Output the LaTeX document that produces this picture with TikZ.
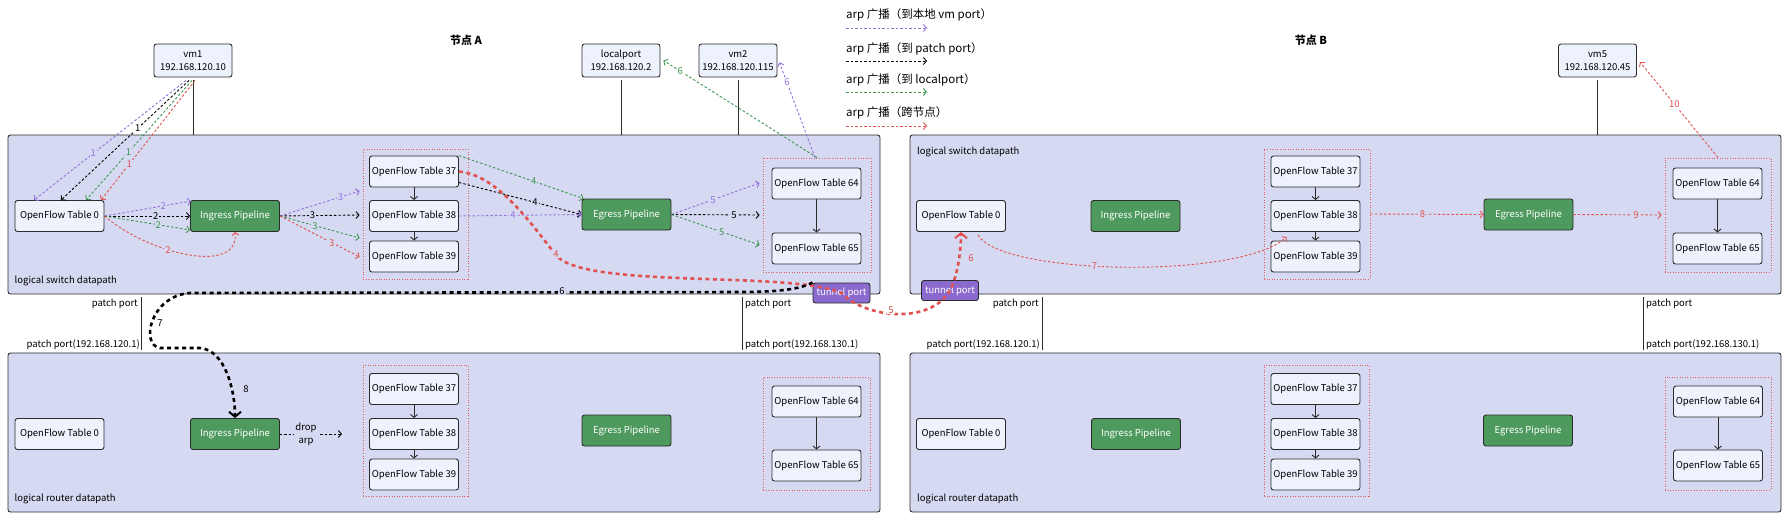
\documentclass[tikz,border=0pt]{standalone}
\usepackage{fontspec}
\setmainfont{Noto Sans CJK SC}
\usetikzlibrary{arrows.meta,calc}
\definecolor{panelc}{HTML}{D5DAF2}
\definecolor{tablec}{HTML}{EEF2FC}
\definecolor{bordc}{HTML}{2B2B2B}
\definecolor{pipec}{HTML}{4E9A5E}
\definecolor{tunc}{HTML}{8B6ACF}
\definecolor{purc}{HTML}{9370DB}
\definecolor{grnc}{HTML}{3E9651}
\definecolor{redc}{HTML}{E0514F}
\definecolor{grpc}{HTML}{E06060}
\newcommand\fnTbl{\fontsize{9.5}{13}\selectfont}
\newcommand\fnLbl{\fontsize{9.5}{13}\selectfont}
\newcommand\fnLeg{\fontsize{11.5}{13}\selectfont}
\newcommand\fnTtl{\fontsize{11}{13}\selectfont\bfseries}
\begin{document}
\begin{tikzpicture}[x=1pt,y=-1pt,
  panel/.style={draw=bordc, fill=panelc, line width=0.9pt, rounded corners=2.5pt, inner sep=0pt},
  tbl/.style={draw=bordc, fill=tablec, line width=0.9pt, rounded corners=2.5pt, minimum width=89pt, minimum height=31pt, inner sep=1pt, font=\fnTbl},
  pipe/.style={tbl, fill=pipec, text=white},
  vmb/.style={tbl, minimum width=78pt, minimum height=33pt, align=center},
  grp/.style={draw=grpc, line width=0.8pt, dash pattern=on 1pt off 1.6pt, inner sep=0pt},
  tun/.style={draw=bordc, fill=tunc, text=white, line width=0.9pt, rounded corners=2.5pt, minimum width=57pt, minimum height=20pt, inner sep=0pt, font=\fnTbl},
  conn/.style={draw=bordc, line width=1pt},
  flow/.style={draw=bordc, line width=0.9pt, -{Straight Barb[length=3pt,width=7pt]}},
  ar/.style={line width=0.9pt, dash pattern=on 2.5pt off 2pt, -{Straight Barb[length=3pt,width=7pt]}},
  pa/.style={ar, draw=purc}, ka/.style={ar, draw=black}, ga/.style={ar, draw=grnc}, ra/.style={ar, draw=redc},
  thk/.style={line width=2.6pt, dash pattern=on 4pt off 3.5pt, -{Straight Barb[length=5pt,width=12pt,line width=2pt]}},
  lbl/.style={font=\fnLbl, inner sep=1pt, fill=panelc},
  lp/.style={lbl, text=purc}, lk/.style={lbl, text=black}, lg/.style={lbl, text=grnc}, lr/.style={lbl, text=redc},
  plab/.style={font=\fnTbl, inner sep=0pt},
  legt/.style={font=\fnLeg, inner sep=0pt, anchor=west}
]
\useasboundingbox[fill=white] (0,0) rectangle (1790,523);

% titles
\node[font=\fnTtl] (tA) at (466,40) {节点 A};
\node[font=\fnTtl] (tBt) at (1311,40) {节点 B};

% legend
\node[legt] (lg1) at (846,15) {arp 广播（到本地 vm port）};
\node[legt] (lg2) at (846,49) {arp 广播（到 patch port）};
\node[legt] (lg3) at (846,80) {arp 广播（到 localport）};
\node[legt] (lg4) at (846,113) {arp 广播（跨节点）};
\coordinate (lg1a) at (846,28); \coordinate (lg1b) at (927,28);
\coordinate (lg2a) at (846,61); \coordinate (lg2b) at (927,61);
\coordinate (lg3a) at (846,92); \coordinate (lg3b) at (927,92);
\coordinate (lg4a) at (846,126); \coordinate (lg4b) at (927,126);
\draw[pa] (lg1a) -- (lg1b);
\draw[ka] (lg2a) -- (lg2b);
\draw[ga] (lg3a) -- (lg3b);
\draw[ra] (lg4a) -- (lg4b);

% panels
\node[panel, minimum width=872pt, minimum height=159pt] (swA) at (444,214.5) {};
\node[panel, minimum width=871pt, minimum height=159pt] (swB) at (1345.5,214.5) {};
\node[panel, minimum width=872pt, minimum height=159pt] (rtA) at (444,432.5) {};
\node[panel, minimum width=871pt, minimum height=159pt] (rtB) at (1345.5,432.5) {};
\node[plab, anchor=west] (lsA) at (14.5,281) {logical switch datapath};
\node[plab, anchor=west] (lsB) at (917,152) {logical switch datapath};
\node[plab, anchor=west] (lrA) at (14.5,499) {logical router datapath};
\node[plab, anchor=west] (lrB) at (917,499) {logical router datapath};

% vms
\node[vmb] (vm1) at (193,60.5) {vm1\\192.168.120.10};
\node[vmb] (lport) at (621,60.5) {localport\\192.168.120.2};
\node[vmb] (vm2) at (738,60.5) {vm2\\192.168.120.115};
\node[vmb] (vm5) at (1597.5,60.5) {vm5\\192.168.120.45};
\draw[conn] ([yshift=-3pt]vm1.south) -- (vm1 |- swA.north);
\draw[conn] ([yshift=-3pt]lport.south) -- (lport |- swA.north);
\draw[conn] ([yshift=-3pt]vm2.south) -- (vm2 |- swA.north);
\draw[conn] ([yshift=-3pt]vm5.south) -- (vm5 |- swB.north);

% groups
\node[grp, minimum width=105pt, minimum height=130pt] (gSA1) at (415.5,214) {};
\node[grp, minimum width=108pt, minimum height=114pt] (gSA2) at (817,215) {};
\node[grp, minimum width=106pt, minimum height=130pt] (gSB1) at (1317,214) {};
\node[grp, minimum width=106pt, minimum height=114pt] (gSB2) at (1718,215) {};
\node[grp, minimum width=105pt, minimum height=131pt] (gRA1) at (415.5,430.5) {};
\node[grp, minimum width=107pt, minimum height=113pt] (gRA2) at (816.5,433.5) {};
\node[grp, minimum width=105pt, minimum height=131pt] (gRB1) at (1316.5,430.5) {};
\node[grp, minimum width=106pt, minimum height=113pt] (gRB2) at (1718,433.5) {};

% switch A
\node[tbl] (sA0) at (59.5,216) {OpenFlow Table 0};
\node[pipe] (sAin) at (235,216) {Ingress Pipeline};
\node[tbl] (sA37) at (414,171.5) {OpenFlow Table 37};
\node[tbl] (sA38) at (414,216) {OpenFlow Table 38};
\node[tbl] (sA39) at (414,256.5) {OpenFlow Table 39};
\node[pipe] (sAeg) at (626.5,214.5) {Egress Pipeline};
\node[tbl] (sA64) at (816.5,183.5) {OpenFlow Table 64};
\node[tbl] (sA65) at (816.5,248.5) {OpenFlow Table 65};
% switch B
\node[tbl] (sB0) at (961,216) {OpenFlow Table 0};
\node[pipe] (sBin) at (1135.5,216) {Ingress Pipeline};
\node[tbl] (sB37) at (1315.5,171.5) {OpenFlow Table 37};
\node[tbl] (sB38) at (1315.5,216) {OpenFlow Table 38};
\node[tbl] (sB39) at (1315.5,256.5) {OpenFlow Table 39};
\node[pipe] (sBeg) at (1528.5,214.5) {Egress Pipeline};
\node[tbl] (sB64) at (1717.5,183.5) {OpenFlow Table 64};
\node[tbl] (sB65) at (1717.5,248.5) {OpenFlow Table 65};
% router A
\node[tbl] (rA0) at (59.5,434) {OpenFlow Table 0};
\node[pipe] (rAin) at (235,434) {Ingress Pipeline};
\node[tbl] (rA37) at (414,389) {OpenFlow Table 37};
\node[tbl] (rA38) at (414,434) {OpenFlow Table 38};
\node[tbl] (rA39) at (414,474.5) {OpenFlow Table 39};
\node[pipe] (rAeg) at (626.5,430.5) {Egress Pipeline};
\node[tbl] (rA64) at (816.5,401.5) {OpenFlow Table 64};
\node[tbl] (rA65) at (816.5,465.5) {OpenFlow Table 65};
% router B
\node[tbl] (rB0) at (961,434) {OpenFlow Table 0};
\node[pipe] (rBin) at (1136,434) {Ingress Pipeline};
\node[tbl] (rB37) at (1315.5,389) {OpenFlow Table 37};
\node[tbl] (rB38) at (1315.5,434) {OpenFlow Table 38};
\node[tbl] (rB39) at (1315.5,474.5) {OpenFlow Table 39};
\node[pipe] (rBeg) at (1528,430.5) {Egress Pipeline};
\node[tbl] (rB64) at (1718,401.5) {OpenFlow Table 64};
\node[tbl] (rB65) at (1718,465.5) {OpenFlow Table 65};

% internal flows
\foreach \p in {sA,sB,rA,rB}{
  \draw[flow] (\p37) -- (\p38);
  \draw[flow] (\p38) -- (\p39);
  \draw[flow] (\p64) -- (\p65);
}

% tunnel ports
\node[tun] (tuA) at (841.5,293) {tunnel port};
\node[tun] (tuB) at (950,290.5) {tunnel port};

% patch ports
\coordinate (pAL1) at (141.5,297); \coordinate (pAL2) at (141.5,350);
\coordinate (pAR1) at (742,297); \coordinate (pAR2) at (742,350);
\coordinate (pBL1) at (1042,297); \coordinate (pBL2) at (1042,350);
\coordinate (pBR1) at (1643,297); \coordinate (pBR2) at (1643,350);
\draw[conn] (pAL1) -- (pAL2);
\draw[conn] (pAR1) -- (pAR2);
\draw[conn] (pBL1) -- (pBL2);
\draw[conn] (pBR1) -- (pBR2);
\node[plab, anchor=east] (ppA1) at (138,304) {patch port};
\node[plab, anchor=east] (ppA2) at (140,345) {patch port(192.168.120.1)};
\node[plab, anchor=west] (ppA3) at (745,304) {patch port};
\node[plab, anchor=west] (ppA4) at (745,345) {patch port(192.168.130.1)};
\node[plab, anchor=east] (ppB1) at (1039,304) {patch port};
\node[plab, anchor=east] (ppB2) at (1040,345) {patch port(192.168.120.1)};
\node[plab, anchor=west] (ppB3) at (1646,304) {patch port};
\node[plab, anchor=west] (ppB4) at (1646,345) {patch port(192.168.130.1)};

% step 1
\draw[pa] ([xshift=-7pt,yshift=-3pt]vm1.south) -- node[lp,pos=0.61] (l1p) {1} ([xshift=-25.5pt]sA0.north);
\draw[ka] ([xshift=-4pt,yshift=-3pt]vm1.south) -- node[lk,pos=0.40,fill=white] (l1k) {1} ([xshift=1.5pt]sA0.north);
\draw[ga] ([xshift=-1pt,yshift=-3pt]vm1.south) -- node[lg,pos=0.60] (l1g) {1} ([xshift=26.5pt]sA0.north);
\draw[ra] ([xshift=2pt,yshift=-3pt]vm1.south) -- node[lr,pos=0.70] (l1r) {1} ([xshift=41.5pt]sA0.north);
% step 2
\draw[pa] (sA0.east) -- node[lp,pos=0.68] (l2p) {2} ([xshift=1pt,yshift=-1pt]sAin.north west);
\draw[ka] (sA0.east) -- node[lk,pos=0.6] (l2k) {2} (sAin.west);
\draw[ga] (sA0.east) -- node[lg,pos=0.63] (l2g) {2} ([yshift=2pt]sAin.south west);
\draw[ra] (sA0.east) .. controls (150,255) and (240,275) .. node[lr,pos=0.38] (l2r) {2} (sAin.south);
% step 3
\draw[pa] (sAin.east) -- node[lp,pos=0.76] (l3p) {3} ([xshift=-3pt,yshift=23pt]gSA1.west);
\draw[ka] (sAin.east) -- node[lk,pos=0.41] (l3k) {3} ([xshift=-3pt,yshift=-1pt]gSA1.west);
\draw[ga] (sAin.east) -- node[lg,pos=0.44] (l3g) {3} ([xshift=-3pt,yshift=-24pt]gSA1.west);
\draw[ra] (sAin.east) -- node[lr,pos=0.65] (l3r) {3} ([xshift=-3pt,yshift=-43pt]gSA1.west);
% step 4
\draw[ga] (sA37.north east) -- node[lg,pos=0.6] (l4g) {4} ([xshift=2pt]sAeg.north west);
\draw[ka] ([yshift=-11pt]sA37.east) -- node[lk,pos=0.62] (l4k) {4} (sAeg.west);
\draw[pa] (sA38.east) -- node[lp,pos=0.44] (l4p) {4} (sAeg.west);
% step 5
\draw[pa] (sAeg.east) -- node[lp,pos=0.47] (l5p) {5} ([xshift=-3pt,yshift=32pt]gSA2.west);
\draw[ka] (sAeg.east) -- node[lk,pos=0.71] (l5k) {5} ([xshift=-3pt]gSA2.west);
\draw[ga] (sAeg.east) -- node[lg,pos=0.57] (l5g) {5} ([xshift=-3pt,yshift=-30pt]gSA2.west);
% step 6
\draw[ga] (gSA2.north) -- node[lg,pos=0.89,fill=white] (l6g) {6} ([xshift=3pt]lport.east);
\draw[pa] ([xshift=-2pt]gSA2.north) -- node[lp,pos=0.79,fill=white] (l6p) {6} ([xshift=2pt,yshift=-2pt]vm2.east);

% red thick cross-node
\draw[thk, draw=redc] (sA37.east) .. controls (495,175) and (525,215) .. (555,254)
  .. controls (580,290) and (790,270) .. (tuA.center)
  .. controls (865,318) and (930,325) .. (tuB.center)
  .. controls (958,275) and (961,250) .. (sB0.south);
\node[lr] (l4r) at (556,254) {4};
\node[lr, fill=white] (l5r) at (891,310) {5};
\node[lr] (l6r) at (971,258) {6};

% black thick to router
\draw[thk, draw=black] (tuA.north west) .. controls (800,289) and (780,292) .. (740,292) -- (190,293)
  .. controls (150,296) and (140,345) .. (160,348) -- (200,348)
  .. controls (225,350) and (235,390) .. (rAin.north);
\node[lk, inner ysep=0pt] (l6k) at (562,291) {6};
\node[lk, fill=none] (l7k) at (160,323) {7};
\node[lk] (l8k) at (246,389) {8};

% switch B
\draw[ra] ([xshift=17pt,yshift=-3pt]sB0.south) .. controls (1000,275) and (1240,280) .. node[lr,pos=0.43] (l7r) {7} ([xshift=16pt,yshift=-5pt]sB38.south west);
\draw[ra] (gSB1.east) -- node[lr,pos=0.46] (l8r) {8} (sBeg.west);
\draw[ra] (sBeg.east) -- node[lr,pos=0.71] (l9r) {9} ([xshift=-3pt]gSB2.west);
\draw[ra] (gSB2.north) -- node[lr,pos=0.56,fill=white] (l10r) {10} ([xshift=3pt,yshift=-1.5pt]vm5.east);

% router A drop arp
\draw[ka] (rAin.east) -- node[lk,pos=0.42,align=center] (ldrop) {drop\\arp} ([xshift=62pt]rAin.east);
\end{tikzpicture}
\end{document}
